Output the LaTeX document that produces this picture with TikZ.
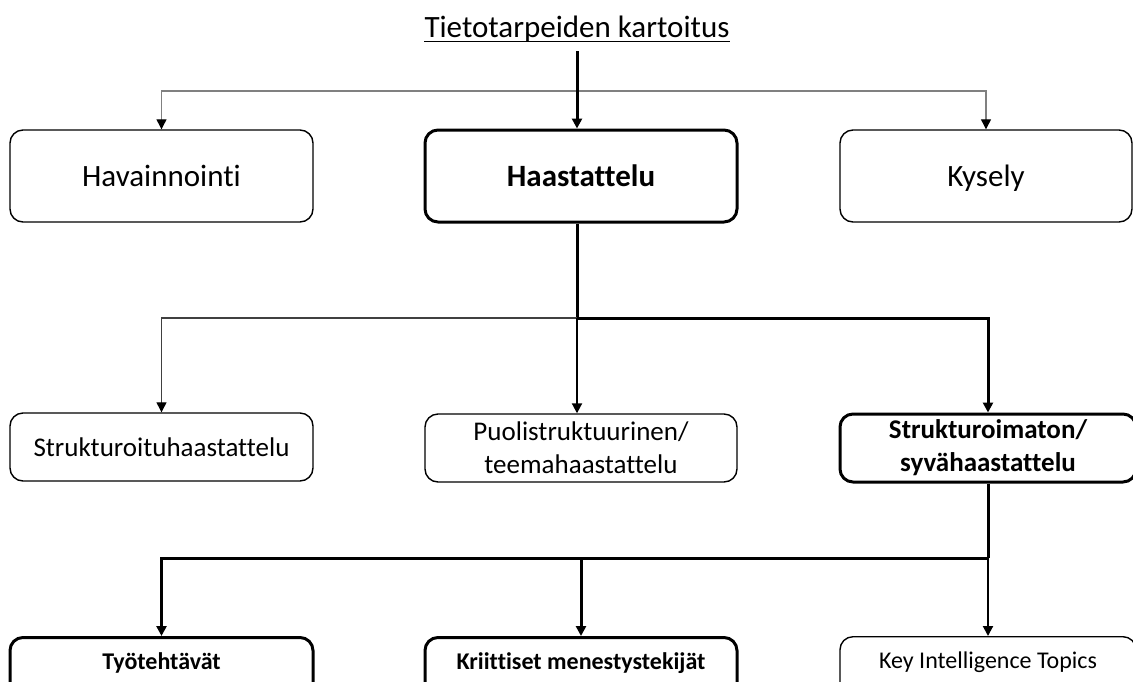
\documentclass[tikz,border=0pt]{standalone}
\usepackage{fontspec}
\setmainfont{Carlito}[Ligatures=NoCommon]
\usetikzlibrary{arrows.meta}

\tikzset{
  box/.style={draw, rounded corners=13pt, line width=1.4pt, align=center, inner sep=0pt},
  heavy/.style={line width=3pt},
  toprow/.style={box, minimum width=#1, minimum height=92pt, text height=20pt, text depth=0pt, font=\fontsize{31}{37}\selectfont},
  midrow/.style={box, minimum width=#1, minimum height=68pt, font=\fontsize{27}{33}\selectfont},
  lowrow/.style={box, anchor=north, minimum width=#1, text height=32pt, text depth=70pt, font=\fontsize{24}{29}\selectfont},
  tip/.style={-{Triangle[length=10pt,width=10pt,color=black]}},
  link/.style={tip, line width=3pt},
  midlink/.style={tip, line width=2pt},
  thinlink/.style={tip, line width=1.2pt, black!75},
  graylink/.style={tip, line width=1.2pt, black!50},
}

\begin{document}
\begin{tikzpicture}[x=1pt, y=1pt]
    \clip (0,0) rectangle (1133,-681);
    \fill[white] (0,0) rectangle (1133,-681);

    \node[anchor=base, inner sep=0pt, font=\fontsize{31}{37}\selectfont] (title) at (577,-37) {Tietotarpeiden kartoitus};
    \draw[line width=1.4pt] ([yshift=-4.5pt]title.base west) -- ([yshift=-4.5pt]title.base east); % underline

    % top row
    \node[toprow=303pt] (havain) at (161.5,-176) {Havainnointi};
    \node[toprow=312pt, heavy, font=\fontsize{31}{37}\selectfont\bfseries] (haast) at (581,-176) {Haastattelu};
    \node[toprow=292pt] (kysely) at (986,-176) {Kysely};

    % middle row
    \node[midrow=303pt] (strukt) at (161.5,-447) {Strukturoituhaastattelu};
    \node[midrow=312pt] (puoli) at (581,-448) {Puolistruktuurinen/\\teemahaastattelu};
    \node[midrow=296pt, heavy, font=\fontsize{27}{33}\selectfont\bfseries] (smaton) at (988,-448) {Strukturoimaton/\\syvähaastattelu};

    % bottom row
    \node[lowrow=303pt, heavy, font=\fontsize{24}{29}\selectfont\bfseries] (tyot) at (161.5,-636) {Työtehtävät};
    \node[lowrow=312pt, heavy, font=\fontsize{24}{29}\selectfont\bfseries] (krit) at (581,-636) {Kriittiset menestystekijät};
    \node[lowrow=296pt] (kit) at (988,-636) {Key Intelligence Topics};

    \coordinate (g) at (577,-91);
    \coordinate (j1) at (577,-318);
    \coordinate (j2) at (988,-558);

    \draw[graylink] (g) -| (havain.north);
    \draw[graylink] (g) -| (kysely.north);
    \draw[link] ([yshift=-9pt]title.south) -- (title.south |- haast.north);

    \draw[heavy] (j1 |- haast.south) -- (j1);
    \draw[thinlink] (j1) -| (strukt.north);
    \draw[midlink] (j1) -- (j1 |- puoli.north);
    \draw[link] (j1) -| (smaton.north);

    \draw[heavy] (smaton.south) -- (j2);
    \draw[link] (j2) -| (tyot.north);
    \draw[link] (j2 -| krit.north) -- (krit.north);
    \draw[midlink] (j2) -- (kit.north);
\end{tikzpicture}
\end{document}
